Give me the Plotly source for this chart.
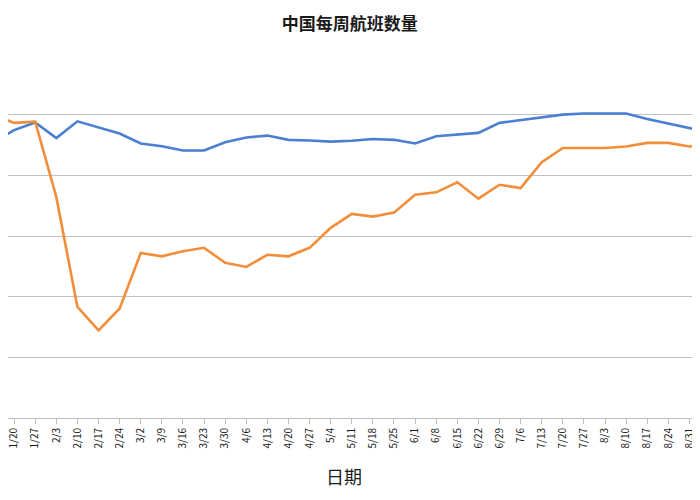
import plotly.graph_objects as go

# weekly dates (2020 calendar weeks), first one is half cut off in the original
dates = ["1/13", "1/20", "1/27", "2/3", "2/10", "2/17", "2/24", "3/2", "3/9",
         "3/16", "3/23", "3/30", "4/6", "4/13", "4/20", "4/27", "5/4", "5/11",
         "5/18", "5/25", "6/1", "6/8", "6/15", "6/22", "6/29", "7/6", "7/13",
         "7/20", "7/27", "8/3", "8/10", "8/17", "8/24", "8/31", "9/7"]

# blue series (last year)
flights_2019 = [90800, 94900, 97400, 92300, 97800, 95800, 93800, 90500, 89600,
                88200, 88200, 90900, 92500, 93100, 91700, 91500, 91100, 91400,
                92000, 91700, 90500, 92900, 93400, 94000, 97300, 98200, 99100,
                100000, 100400, 100400, 100400, 98600, 97100, 95800, 94100]

# orange series (this year)
flights_2020 = [100000, 97300, 97700, 72800, 36600, 28900, 36100, 54400, 53300,
                55000, 56100, 51200, 49800, 53800, 53300, 56100, 62700, 67300,
                66400, 67700, 73600, 74400, 77700, 72300, 76900, 75800, 84300,
                89000, 89000, 89000, 89500, 90700, 90700, 89500, 90500]

fig = go.Figure()
fig.add_trace(go.Scatter(
    x=dates, y=flights_2019, name="2019", mode="lines",
    line=dict(color="#4a7fd1", width=2.6)))
fig.add_trace(go.Scatter(
    x=dates, y=flights_2020, name="2020", mode="lines",
    line=dict(color="#f28d3a", width=2.6)))

# axis title placed by hand (it sits a little left of the plot centre)
fig.add_annotation(
    text="日期", xref="paper", yref="paper", x=0.486, y=-0.16,
    xanchor="center", yanchor="middle", showarrow=False,
    font=dict(size=18, color="#1a1a1a"))

# page body has an 8px margin, so the figure is 8px short on each side
fig.update_layout(
    width=692,
    height=484,
    margin=dict(l=0, r=0, t=46, b=74, autoexpand=False),
    paper_bgcolor="white",
    plot_bgcolor="white",
    showlegend=False,
    font=dict(family="Noto Sans CJK SC, Noto Sans, sans-serif", color="#404040"),
    title=dict(
        text="<b>中国每周航班数量</b>",
        x=0.494, y=0.967, xanchor="center", yanchor="middle",
        font=dict(size=17, color="#1a1a1a")),
    xaxis=dict(
        type="category",
        range=[0.71, 33.5],
        tickangle=-90,
        tickfont=dict(size=10, color="#1a1a1a"),
        ticks="outside", ticklen=5, tickcolor="#bfbfbf",
        showline=True, linecolor="#bfbfbf", linewidth=1,
        showgrid=False,
        automargin=False,
    ),
    yaxis=dict(
        range=[0, 120000],
        dtick=20000,
        showticklabels=False,
        showgrid=True, gridcolor="#c0c0c0", gridwidth=1,
        zeroline=False,
    ),
)

fig.write_html("out.html")
